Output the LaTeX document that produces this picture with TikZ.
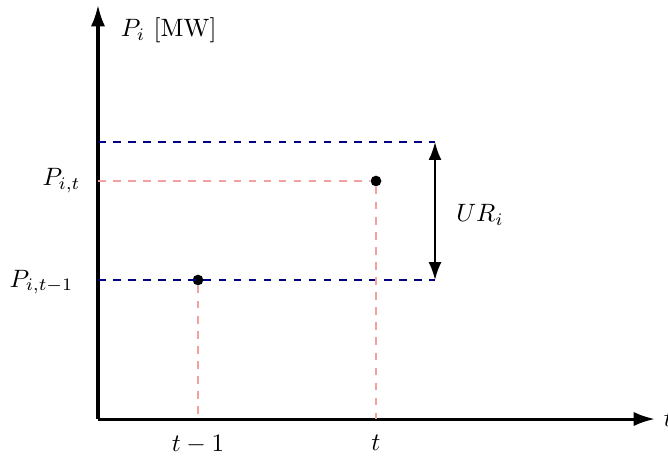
\documentclass[tikz,border=0pt]{standalone}
\usepackage{amsmath,amssymb}
\usepackage{xcolor}
\usetikzlibrary{arrows.meta, positioning}
\definecolor{limitblue}{RGB}{0,0,128}
\definecolor{guidepink}{RGB}{242,160,160}
\tikzset{
  axis/.style={
    very thick,
    -{Latex[length=3mm, width=2mm]}
  },
  limit/.style={
    thick,
    dashed,
    limitblue
  },
  guide/.style={
    thick,
    dashed,
    guidepink
  },
  dot/.style={
    circle,
    fill=black,
    inner sep=0pt,
    minimum size=1.5mm
  },
  span/.style={
    thick,
    {Latex[length=2.5mm, width=1.8mm]}-{Latex[length=2.5mm, width=1.8mm]}
  }
}

\begin{document}
\begin{tikzpicture}[x=1.4cm, y=1.4cm]
  \useasboundingbox (-0.98,-0.39) rectangle (5.70,4.19);

  % AXES
  \coordinate (O) at (0,0);
  \coordinate (yend) at (0,4.14);
  \coordinate (xend) at (5.57,0);
  \draw[axis] (O) -- (yend);
  \draw[axis] (O) -- (xend);
  \node (ylab) [anchor=west] at (0.14,3.89) {$P_i$ [MW]};
  \node (xlab) [right=0pt of xend] {$t$};

  % OPERATING POINTS
  \node (prev) [dot] at (1.00,1.39) {};
  \node (curr) [dot] at (2.78,2.38) {};
  \coordinate (prevfoot) at (1.00,0);
  \coordinate (currfoot) at (2.78,0);
  \coordinate (currleft) at (0,2.38);

  % RAMP LIMITS
  \coordinate (lowleft)  at (0,1.39);
  \coordinate (lowright) at (3.37,1.39);
  \coordinate (upleft)   at (0,2.77);
  \coordinate (upright)  at (3.37,2.77);
  \draw[limit] (lowleft) -- (lowright);
  \draw[limit] (upleft) -- (upright);
  \draw[span] (upright) -- (lowright);
  \node (ramp) at (3.82,2.04) {$UR_i$};

  % GUIDE LINES
  \draw[guide] (prev) -- (prevfoot);
  \draw[guide] (curr) -- (currfoot);
  \draw[guide] (currleft) -- (curr);

  % LABELS
  \node (Pt)  [left=0.12cm of currleft] {$P_{i,t}$};
  \node (Pt1) [left=0.22cm of lowleft, yshift=-0.03cm] {$P_{i,t-1}$};
  \node (tm1) [below=0.1cm of prevfoot] {$t-1$};
  \node (tt)  [below=0.1cm of currfoot] {$t$};

\end{tikzpicture}
\end{document}
